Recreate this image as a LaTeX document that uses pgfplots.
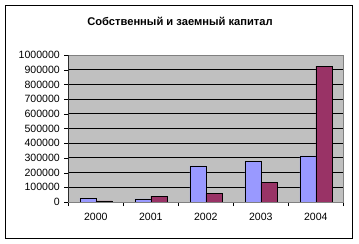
\documentclass[border=0pt]{standalone}
\usepackage{pgfplots}
\pgfplotsset{compat=1.18}
\usepackage{fontspec}
\setmainfont{Liberation Sans}
\definecolor{barblue}{HTML}{9999FF}
\definecolor{barred}{HTML}{993366}
\definecolor{plotgray}{HTML}{C0C0C0}
\begin{document}
\begin{tikzpicture}[x=1bp,y=1bp]
\path (0,0) rectangle (359,244);
\draw[black, line width=1.2bp] (5.5,5.5) rectangle (352.5,238.5);
\node[font=\bfseries\fontsize{11.2}{13}\selectfont] at (180,223) {Собственный и заемный капитал};
\begin{axis}[
  at={(68.3bp,42bp)}, anchor=south west,
  scale only axis, width=275bp, height=147bp,
  ybar=0pt, bar width=16bp,
  xmin=-0.5, xmax=4.5, ymin=0, ymax=1000000,
  xtick={0,1,2,3,4}, xticklabels={2000,2001,2002,2003,2004},
  major x tick style={draw=none},
  minor xtick={-0.5,0.5,1.5,2.5,3.5,4.5},
  minor x tick style={black},
  ytick={0,100000,...,1000000},
  scaled y ticks=false,
  yticklabel style={/pgf/number format/fixed, /pgf/number format/set thousands separator={}},
  /pgf/number format/assume math mode=true,
  tick align=outside, major tick length=4bp, minor tick length=4bp,
  tick style={black},
  ymajorgrids, grid style={black, line width=0.8bp},
  axis background/.style={fill=plotgray},
  axis line style={draw=gray},
  ticklabel style={font=\fontsize{10.6}{12}\selectfont},
  xticklabel style={yshift=-4bp},
  yticklabel style={xshift=-1bp},
  tick pos=left,
]
\addplot[fill=barblue, draw=black] coordinates {(0,27000) (1,22000) (2,245000) (3,277000) (4,313000)};
\addplot[fill=barred, draw=black] coordinates {(0,7000) (1,40000) (2,59000) (3,134000) (4,925000)};
\draw[gray, line width=0.8bp] (rel axis cs:0,1) -- (rel axis cs:1,1);
\draw[black, line width=0.8bp] (rel axis cs:0,0) -- (rel axis cs:0,1);
\draw[black, line width=0.8bp] (rel axis cs:0,0) -- (rel axis cs:1,0);
\end{axis}
\end{tikzpicture}
\end{document}
